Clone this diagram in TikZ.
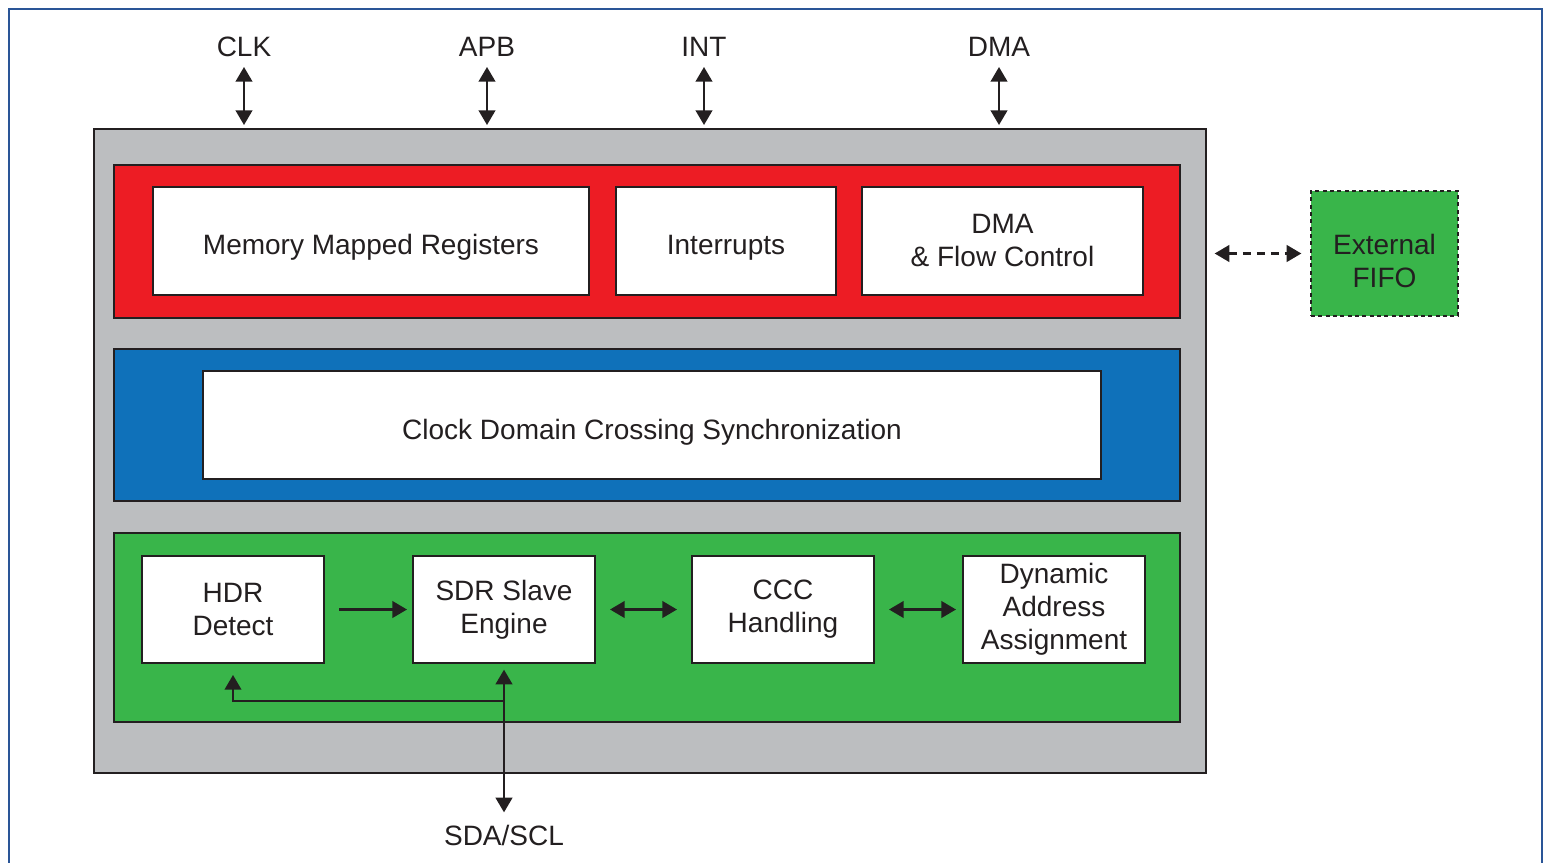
\documentclass[tikz,border=0pt]{standalone}
\usepackage{fontspec}
\setmainfont{Liberation Sans}
\usetikzlibrary{arrows.meta}

\definecolor{framebl}{HTML}{2A5597}
\definecolor{coregray}{HTML}{BCBEC0}
\definecolor{regred}{HTML}{ED1C24}
\definecolor{cdcblue}{HTML}{0F71BA}
\definecolor{phygreen}{HTML}{39B54A}
\definecolor{ink}{HTML}{231F20}

\begin{document}
\begin{tikzpicture}[x=0.75pt,y=0.75pt,yscale=-1,xscale=1,
  every node/.style={font=\fontsize{21}{24.75}\selectfont, text=ink},
  plain/.style={draw=ink, line width=1.5pt, inner sep=0pt, outer sep=0pt},
  wbox/.style={plain, fill=white, minimum height=81pt, text height=20pt, text depth=0pt},
  smallbox/.style={plain, fill=white, align=center, minimum width=136.5pt, minimum height=80.25pt},
  band/.style={plain, minimum width=799.5pt},
  onearr/.style={draw=ink, line width=1.6pt, -{Triangle[length=11pt,width=12.5pt]}},
  twoarr/.style={draw=ink, line width=1.6pt, {Triangle[length=11pt,width=12.5pt]}-{Triangle[length=11pt,width=12.5pt]}}]
\useasboundingbox (0,0) rectangle (1548,863);

%Outer frame, open at the bottom
\draw[framebl, line width=2pt] (9,863) -- (9,9) -- (1542,9) -- (1542,863);

%Core and bands
\node[plain, fill=coregray, minimum width=834pt, minimum height=483pt] (core) at (650,451) {};
\node[band, fill=regred, minimum height=114.75pt] (regband) at (647,241.5) {};
\node[band, fill=cdcblue, minimum height=114pt] (cdcband) at (647,425) {};
\node[band, fill=phygreen, minimum height=141.75pt] (phyband) at (647,627.5) {};

%Register band
\node[wbox, minimum width=327pt] (mmr) at (371,241) {Memory Mapped Registers};
\node[wbox, minimum width=165pt] (intr) at (726,241) {Interrupts};
\node[smallbox, minimum width=210.75pt, minimum height=81pt] (dmafc) at (1002.5,241) {DMA\\\& Flow Control};

%Synchronization band
\node[wbox, minimum width=673.5pt, text height=21pt] (cdc) at (652,425) {Clock Domain Crossing Synchronization};

%Protocol band
\node[smallbox] (hdr) at (233,609.5) {HDR\\Detect};
\node[smallbox] (sdr) at (504,609.5) {SDR Slave\\Engine};
\node[smallbox] (ccc) at (783,609.5) {CCC\\Handling};
\node[smallbox] (daa) at (1054,609.5) {Dynamic\\Address\\Assignment};

%External FIFO
\node[draw=ink, line width=1.5pt, dash pattern=on 3pt off 2.5pt, fill=phygreen, minimum width=110.25pt, minimum height=93.75pt, align=center, text height=51pt, text depth=0pt] (fifo) at (1384.5,253.5) {External\\FIFO};

%Bus labels
\node (clk) at (244,47) {CLK};
\node (apb) at (487,47) {APB};
\node (int) at (704,47) {INT};
\node (dma) at (999,47) {DMA};
\node (sdascl) at (504,835) {SDA/SCL};
\coordinate (split) at (504,701);

%Connectors
\foreach \bus in {clk,apb,int,dma}
  \draw[twoarr, shorten <=15pt, shorten >=3pt] (\bus.center) -- (\bus.center |- core.north);
\draw[twoarr, dash pattern=on 6pt off 4.5pt, shorten <=6.5pt, shorten >=6.5pt] (fifo.west -| core.east) -- (fifo.west);
\draw[onearr, shorten <=11.25pt, shorten >=4.5pt] (hdr) -- (sdr);
\draw[twoarr, shorten <=11.25pt, shorten >=11.25pt] (sdr) -- (ccc);
\draw[twoarr, shorten <=11.25pt, shorten >=5.25pt] (ccc) -- (daa);
\draw[twoarr, shorten <=5pt, shorten >=17pt] (sdr.south) -- (sdascl.center);
\draw[onearr, line width=1.3pt, shorten >=9pt] (split) -| (hdr.south);

\end{tikzpicture}
\end{document}
